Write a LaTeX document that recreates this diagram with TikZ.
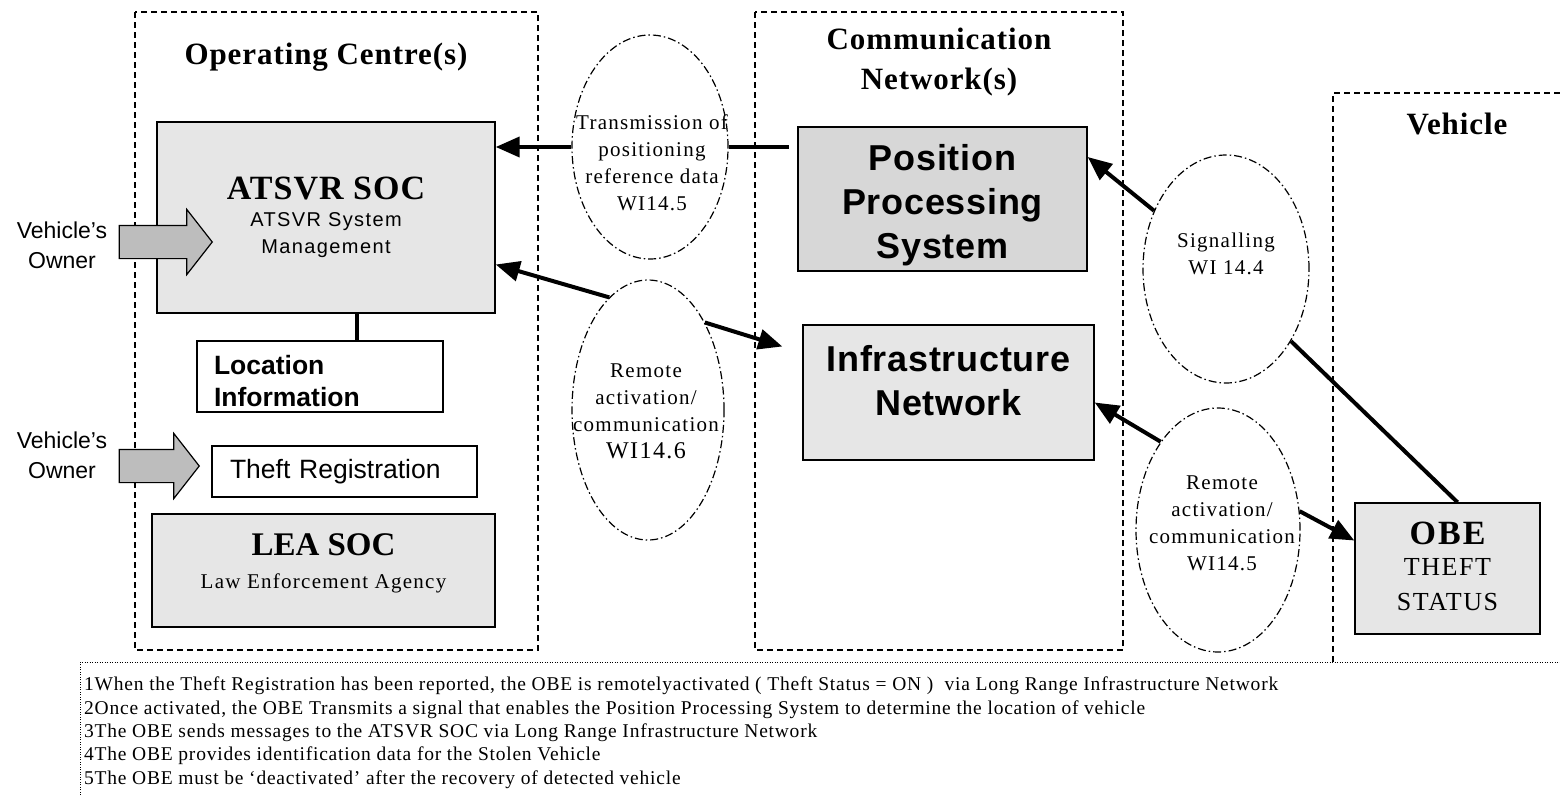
\documentclass[tikz,border=0pt]{standalone}
\usepackage{fontspec}
\setmainfont{Liberation Serif}
\setsansfont{Liberation Sans}
\newfontfamily\notefont[LetterSpace=4]{Liberation Serif}
\newfontfamily\chanfont[LetterSpace=6]{Liberation Serif}
\newfontfamily\headfont[LetterSpace=3]{Liberation Serif}
\newfontfamily\widesans[LetterSpace=7]{Liberation Sans}
\newfontfamily\boldsans[LetterSpace=2]{Liberation Sans}
\usetikzlibrary{arrows.meta,shapes.geometric,shapes.arrows,calc}

\definecolor{boxgray}{HTML}{E6E6E6}
\definecolor{ppsgray}{HTML}{D7D7D7}
\definecolor{blockgray}{HTML}{BDBDBD}

\begin{document}
\begin{tikzpicture}[x=1pt,y=-1pt,
  region/.style={draw, line width=1.3pt, dash pattern=on 6pt off 4pt},
  unit/.style={draw, line width=1.4pt, fill=boxgray, inner sep=0pt, align=center},
  plainbox/.style={draw, line width=1.4pt, fill=white, inner sep=0pt},
  channel/.style={draw, ellipse, line width=1.2pt, dash pattern=on 8pt off 3pt on 1.5pt off 3pt, inner sep=0pt},
  chantext/.style={align=center, inner sep=0pt, font=\chanfont\fontsize{21}{27}\selectfont},
  link/.style={line width=4pt},
  flow/.style={line width=4pt, -{Triangle[length=24pt,width=20pt]}},
  heading/.style={font=\headfont\bfseries\fontsize{31}{40}\selectfont, align=center, inner sep=0pt},
  owner/.style={font=\sffamily\fontsize{23}{30}\selectfont, align=center, inner sep=0pt},
  blockarrow/.style={single arrow, draw, fill=blockgray, line width=1.2pt, inner xsep=0pt,
    inner ysep=16pt, single arrow head extend=16pt, single arrow tip angle=104, anchor=tip},
]
\useasboundingbox (0,0) rectangle (1560,795);

% column frames
\draw[region] (135,12) rectangle (538,650);
\draw[region] (755,12) rectangle (1123,650);
\draw[region] (1333,662) -- (1333,93) -- (1560,93);
\draw[line width=1pt, dash pattern=on 1pt off 1.5pt] (80,795) -- (80,662) -- (1560,662);

% column headings
\node[heading] (hoc) at (326,57) {Operating Centre(s)};
\node[heading] (hcn) at (939,62) {Communication\\Network(s)};
\node[heading] (hveh) at (1457,124) {Vehicle};

% operating centre
\node[unit, minimum width=338pt, minimum height=191pt, font=\widesans\fontsize{20}{27}\selectfont] (atsvr) at (326,217.5)
  {{\headfont\bfseries\fontsize{34}{34}\selectfont ATSVR SOC}\\ATSVR System\\Management};
\node[plainbox, minimum width=246pt, minimum height=71pt, text width=212pt, inner xsep=17pt, align=left,
  font=\sffamily\bfseries\fontsize{26.5}{32}\selectfont] (loc) at (320,376.5) {\rule{0pt}{29pt}Location\\Information};
\node[plainbox, minimum width=265pt, minimum height=51pt, text width=229pt, inner xsep=18pt, align=left,
  font=\sffamily\fontsize{26.5}{30}\selectfont] (theft) at (344.5,471.5) {Theft Registration};
\node[unit, minimum width=343pt, minimum height=113pt, font=\fontsize{21}{33}\selectfont] (lea) at (323.5,570.5)
  {{\bfseries\fontsize{33}{33}\selectfont LEA SOC}\\{\chanfont\fontsize{21}{33}\selectfont Law Enforcement Agency}\rule[-18pt]{0pt}{18pt}};

% vehicle owners
\node[owner] (own1) at (62,245) {Vehicle's\\Owner};
\node[blockarrow, minimum height=93pt] (own1arrow) at (213,242) {};
\node[owner] (own2) at (62,455) {Vehicle's\\Owner};
\node[blockarrow, minimum height=80pt] (own2arrow) at (200,466) {};

% communication network
\node[unit, fill=ppsgray, minimum width=289pt, minimum height=144pt,
  font=\boldsans\bfseries\fontsize{36}{44}\selectfont] (pps) at (942.5,199) {\rule{0pt}{38pt}Position\\Processing\\System};
\node[unit, minimum width=291pt, minimum height=135pt,
  font=\boldsans\bfseries\fontsize{36}{44}\selectfont] (infra) at (948.5,392.5) {Infrastructure\\Network\rule[-24pt]{0pt}{24pt}};

% vehicle
\node[unit, minimum width=185pt, minimum height=131pt, font=\chanfont\fontsize{26}{35}\selectfont] (obe) at (1447.5,568.5)
  {{\bfseries\fontsize{34}{34}\selectfont OBE}\\[-4pt]THEFT\\STATUS\rule[-4pt]{0pt}{4pt}};

% interfaces
\node[channel, minimum width=156pt, minimum height=224pt] (e1) at (650,147) {};
\node[chantext] (e1t) at (652,163) {Transmission of\\positioning\\reference data\\WI14.5};
\node[channel, minimum width=152pt, minimum height=260pt] (e2) at (648,410) {};
\node[chantext] (e2t) at (646,411) {Remote\\activation/\\communication\\{\fontsize{24}{27}\selectfont WI14.6}};
\node[channel, minimum width=166pt, minimum height=228pt] (e3) at (1226,269) {};
\node[chantext] (e3t) at (1226,254) {Signalling\\WI 14.4};
\node[channel, minimum width=164pt, minimum height=244pt] (e4) at (1218,530) {};
\node[chantext] (e4t) at (1222,523) {Remote\\activation/\\communication\\WI14.5};

% data flows
\draw[flow] (e1.west) -- (atsvr.east |- e1.west);
\draw[link] (e1.east) -- ($(pps.west |- e1.east)+(-8,0)$);
\draw[flow] (e2.109) -- ([yshift=-47pt]atsvr.east);
\draw[flow] (e2.57) -- ([xshift=-20pt,yshift=46pt]infra.west);
\draw[flow] (e3.141) -- ([yshift=42pt]pps.east);
\draw[link] (e3.-48) -- ([xshift=10pt]obe.north);
\draw[flow] (e4.123) -- ([yshift=-10pt]infra.east);
\draw[flow] (e4.13) -- ([yshift=28pt]obe.west);
\draw[link] ([xshift=31pt]atsvr.south) -- ([xshift=31pt]atsvr.south |- loc.north);

% notes
\node[anchor=north west, inner sep=0pt, align=left, font=\notefont\fontsize{19.5}{23.3}\selectfont] (notes) at (84,677)
  {1When the Theft Registration has been reported, the OBE is remotelyactivated ( Theft Status = ON )\ \ via Long Range Infrastructure Network\\
   2Once activated, the OBE Transmits a signal that enables the Position Processing System to determine the location of vehicle\\
   3The OBE sends messages to the ATSVR SOC via Long Range Infrastructure Network\\
   4The OBE provides identification data for the Stolen Vehicle\\
   5The OBE must be ‘deactivated’ after the recovery of detected vehicle};
\end{tikzpicture}
\end{document}
